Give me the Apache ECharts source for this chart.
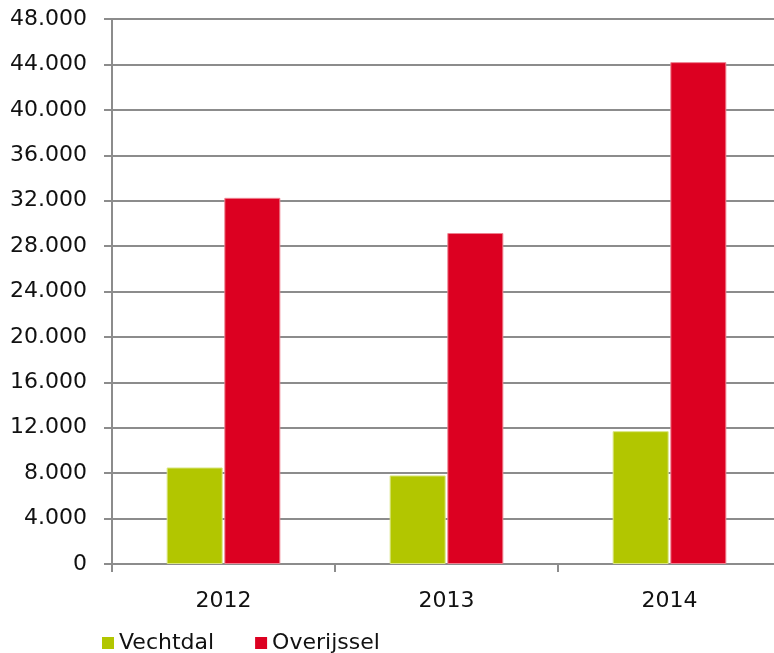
<!DOCTYPE html>
<html>
<head>
<meta charset="utf-8">
<script src="https://cdn.jsdelivr.net/npm/echarts@6/dist/echarts.min.js"></script>
<style>html,body{margin:0;padding:0;background:#fff}#c{width:774px;height:653px}</style>
</head>
<body>
<div id="c"></div>
<script>
var categories = ['2012', '2013', '2014'];
var vechtdal = [8500, 7800, 11700];
var overijssel = [32250, 29150, 44200];
var seriesNames = ['Vechtdal', 'Overijssel'];

var chart = echarts.init(document.getElementById('c'));
var font = 'DejaVu Sans';
function fmt(v) {
  var s = String(Math.round(v));
  return s.replace(/\B(?=(\d{3})+(?!\d))/g, '.');
}
chart.setOption({
  animation: false,
  textStyle: { fontFamily: font },
  grid: { left: 112, top: 19, width: 669, height: 545, containLabel: false, outerBoundsMode: 'none' },
  legend: {
    left: 97, top: 627,
    itemWidth: 12, itemHeight: 12, itemGap: 41,
    icon: 'rect',
    itemStyle: { borderWidth: 0 },
    textStyle: { fontFamily: font, fontSize: 22, color: '#111' },
    data: seriesNames
  },
  xAxis: {
    type: 'category',
    data: categories,
    axisLine: { lineStyle: { color: '#8c8c8c', width: 2 } },
    axisTick: { show: true, length: 8, lineStyle: { color: '#8c8c8c', width: 2 } },
    axisLabel: { fontFamily: font, fontSize: 22, color: '#111', margin: 26 }
  },
  yAxis: {
    type: 'value',
    min: 0, max: 48000, interval: 4000,
    axisLine: { show: true, lineStyle: { color: '#8c8c8c', width: 2 } },
    axisTick: { show: true, length: 8, lineStyle: { color: '#8c8c8c', width: 2 } },
    splitLine: { lineStyle: { color: '#8c8c8c', width: 2 } },
    axisLabel: { fontFamily: font, fontSize: 22, color: '#111', margin: 25, formatter: fmt }
  },
  series: [
    {
      name: seriesNames[0], type: 'bar', data: vechtdal,
      barWidth: 56, barGap: '3%',
      itemStyle: { color: '#b2c600', borderColor: '#d9e580', borderWidth: 1 }
    },
    {
      name: seriesNames[1], type: 'bar', data: overijssel,
      barWidth: 56, barGap: '3%',
      itemStyle: { color: '#dc0021', borderColor: '#ee8090', borderWidth: 1 }
    }
  ]
});
</script>
</body>
</html>
